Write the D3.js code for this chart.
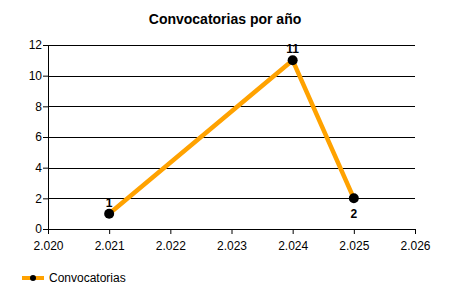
<!DOCTYPE html>
<html>
<head>
<meta charset="utf-8">
<script src="https://cdn.jsdelivr.net/npm/d3@7"></script>
<style>
  body { margin: 0; background: #fff; }
  text { font-family: "Liberation Sans", Arial, sans-serif; }
  .axis text { font-size: 12px; fill: #000; }
  .axis path, .axis line { stroke: #000; }
</style>
</head>
<body>
<div id="vis"></div>
<script>
// data
var years = [2021, 2024, 2025];
var counts = [1, 11, 2];
var labelPos = ['above', 'above', 'below'];
var xTicks = [2020, 2021, 2022, 2023, 2024, 2025, 2026];
var yTicks = [0, 2, 4, 6, 8, 10, 12];

var width = 450, height = 300;
var margin = { left: 48, right: 35, top: 45, bottom: 71 };
var drawWidth = width - margin.left - margin.right;
var drawHeight = height - margin.top - margin.bottom;

var svg = d3.select('#vis').append('svg')
    .attr('width', width)
    .attr('height', height);

var g = svg.append('g')
    .attr('transform', `translate(${margin.left}, ${margin.top})`);

var xScale = d3.scaleLinear().domain([2020, 2026]).range([0, drawWidth]);
var yScale = d3.scaleLinear().domain([0, 12]).range([drawHeight, 0]);

var fmt = (d) => d3.format('.3f')(d / 1000).replace('.', '.');

// gridlines
g.selectAll('.grid')
    .data(yTicks.filter((d) => d > 0))
    .enter().append('line')
    .attr('x1', 0).attr('x2', drawWidth)
    .attr('y1', (d) => Math.round(yScale(d)) + 0.5)
    .attr('y2', (d) => Math.round(yScale(d)) + 0.5)
    .attr('stroke', '#000');

var xAxis = d3.axisBottom(xScale).tickValues(xTicks).tickSize(5).tickSizeOuter(0)
    .tickFormat(fmt);
var yAxis = d3.axisLeft(yScale).tickValues(yTicks).tickSize(5).tickSizeOuter(0);

g.append('g').attr('class', 'axis')
    .attr('transform', `translate(0, ${drawHeight})`)
    .call(xAxis)
    .selectAll('text').attr('dy', '1.05em');

g.append('g').attr('class', 'axis')
    .call(yAxis)
    .selectAll('text').attr('dx', '2px');

var data = years.map((d, i) => ({ year: d, value: counts[i], pos: labelPos[i] }));

var line = d3.line()
    .x((d) => xScale(d.year))
    .y((d) => yScale(d.value));

g.append('path')
    .datum(data)
    .attr('d', line)
    .attr('fill', 'none')
    .attr('stroke', '#FFA200')
    .attr('stroke-width', 4.5)
    .attr('stroke-linejoin', 'round');

g.selectAll('.pt')
    .data(data)
    .enter().append('circle')
    .attr('cx', (d) => xScale(d.year))
    .attr('cy', (d) => yScale(d.value))
    .attr('r', 5)
    .attr('fill', '#000');

g.selectAll('.lbl')
    .data(data)
    .enter().append('text')
    .attr('x', (d) => xScale(d.year))
    .attr('y', (d) => yScale(d.value) + (d.pos === 'above' ? -7 : 20))
    .attr('text-anchor', 'middle')
    .style('font-size', '12px')
    .style('font-weight', 'bold')
    .text((d) => d.value);

// title
svg.append('text')
    .attr('x', 225).attr('y', 24)
    .attr('text-anchor', 'middle')
    .style('font-size', '14px')
    .style('font-weight', 'bold')
    .text('Convocatorias por año');

// legend
var lg = svg.append('g').attr('transform', 'translate(22, 278)');
lg.append('line').attr('x1', 0).attr('x2', 22).attr('y1', 0).attr('y2', 0)
    .attr('stroke', '#FFA200').attr('stroke-width', 4);
lg.append('circle').attr('cx', 11).attr('cy', 0).attr('r', 3).attr('fill', '#000');
lg.append('text').attr('x', 27).attr('y', 4)
    .style('font-size', '12px')
    .text('Convocatorias');
</script>
</body>
</html>
